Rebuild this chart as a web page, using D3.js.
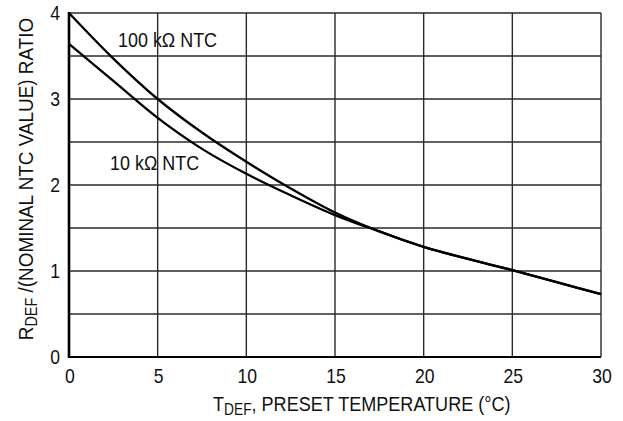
<!DOCTYPE html>
<html lang="en">
<head>
<meta charset="utf-8">
<title>RDEF ratio vs preset temperature</title>
<script src="https://d3js.org/d3.v7.min.js"></script>
<style>
  body { margin: 0; background: #fff; }
  svg text { font-family: "Liberation Sans", Arial, sans-serif; fill: #111; }
</style>
</head>
<body>
<script>
// preset temperature (°C)
const temps = [0, 2.5, 5, 7.5, 10, 12.5, 15, 17.5, 20, 22.5, 25, 27.5, 30];
// ratio
const ntc100k = [4.0, 3.47, 3.0, 2.61, 2.27, 1.96, 1.68, 1.46, 1.28, 1.14, 1.01, 0.87, 0.73];
const ntc10k  = [3.64, 3.21, 2.78, 2.42, 2.13, 1.88, 1.65, 1.46, 1.28, 1.14, 1.01, 0.87, 0.73];
const xTicks = [0, 5, 10, 15, 20, 25, 30];
const yTicks = [0, 1, 2, 3, 4];
const yGrid = [0.5, 1, 1.5, 2, 2.5, 3, 3.5, 4];

const w = 623, h = 421;
const margin = {left: 69, right: 22, top: 13, bottom: 64};

const svg = d3.select("body").append("svg")
  .attr("width", w).attr("height", h);

const x = d3.scaleLinear().domain([0, 30]).range([margin.left, w - margin.right]);
const y = d3.scaleLinear().domain([0, 4]).range([h - margin.bottom, margin.top]);

// the original lettering is a condensed face, so squeeze the text horizontally
function narrow(px, py, sx, rot) {
  return svg.append("g")
    .attr("transform", "translate(" + px + "," + py + ")" + (rot ? " rotate(" + rot + ")" : "") + " scale(" + sx + ",1)")
    .append("text");
}

// grid
svg.append("g").selectAll("line").data(xTicks.slice(1))
  .join("line")
  .attr("x1", d => x(d)).attr("x2", d => x(d))
  .attr("y1", y(0)).attr("y2", y(4))
  .attr("stroke", "#2a2a2a").attr("stroke-width", 1.4);

svg.append("g").selectAll("line").data(yGrid)
  .join("line")
  .attr("x1", x(0)).attr("x2", x(30))
  .attr("y1", d => y(d)).attr("y2", d => y(d))
  .attr("stroke", "#2a2a2a").attr("stroke-width", 1.4);

// heavy left and bottom axes
svg.append("line")
  .attr("x1", x(0)).attr("x2", x(0)).attr("y1", y(0) + 1).attr("y2", y(4) - 1)
  .attr("stroke", "#000").attr("stroke-width", 2.6);
svg.append("line")
  .attr("x1", x(0) - 1).attr("x2", x(30)).attr("y1", y(0)).attr("y2", y(0))
  .attr("stroke", "#000").attr("stroke-width", 2.2);

// tick labels
xTicks.forEach(d => {
  narrow(x(d) + 1, 383, 0.88)
    .attr("text-anchor", "middle")
    .attr("font-size", 20)
    .text(d);
});

yTicks.forEach(d => {
  narrow(60, y(d) + 7, 0.88)
    .attr("text-anchor", "end")
    .attr("font-size", 20)
    .text(d);
});

// curves
const line = d3.line()
  .x((d, i) => x(temps[i]))
  .y(d => y(d))
  .curve(d3.curveCatmullRom.alpha(0.5));

[ntc100k, ntc10k].forEach(s => {
  svg.append("path")
    .datum(s)
    .attr("d", line)
    .attr("fill", "none")
    .attr("stroke", "#000")
    .attr("stroke-width", 2.3);
});

// curve labels
narrow(118, 47, 0.92).attr("font-size", 19.5).text("100 kΩ NTC");
narrow(110, 170, 0.92).attr("font-size", 19.5).text("10 kΩ NTC");

// axis titles
const xt = narrow(213, 411, 0.86).attr("font-size", 21);
xt.append("tspan").text("T");
xt.append("tspan").attr("font-size", 16).attr("dy", 4).text("DEF");
xt.append("tspan").attr("dy", -4).text(", PRESET TEMPERATURE (°C)");

const yt = narrow(33, 179, 0.9, -90)
  .attr("text-anchor", "middle")
  .attr("font-size", 21);
yt.append("tspan").text("R");
yt.append("tspan").attr("font-size", 16).attr("dy", 4).text("DEF");
yt.append("tspan").attr("dy", -4).text(" /(NOMINAL NTC VALUE) RATIO");
</script>
</body>
</html>
